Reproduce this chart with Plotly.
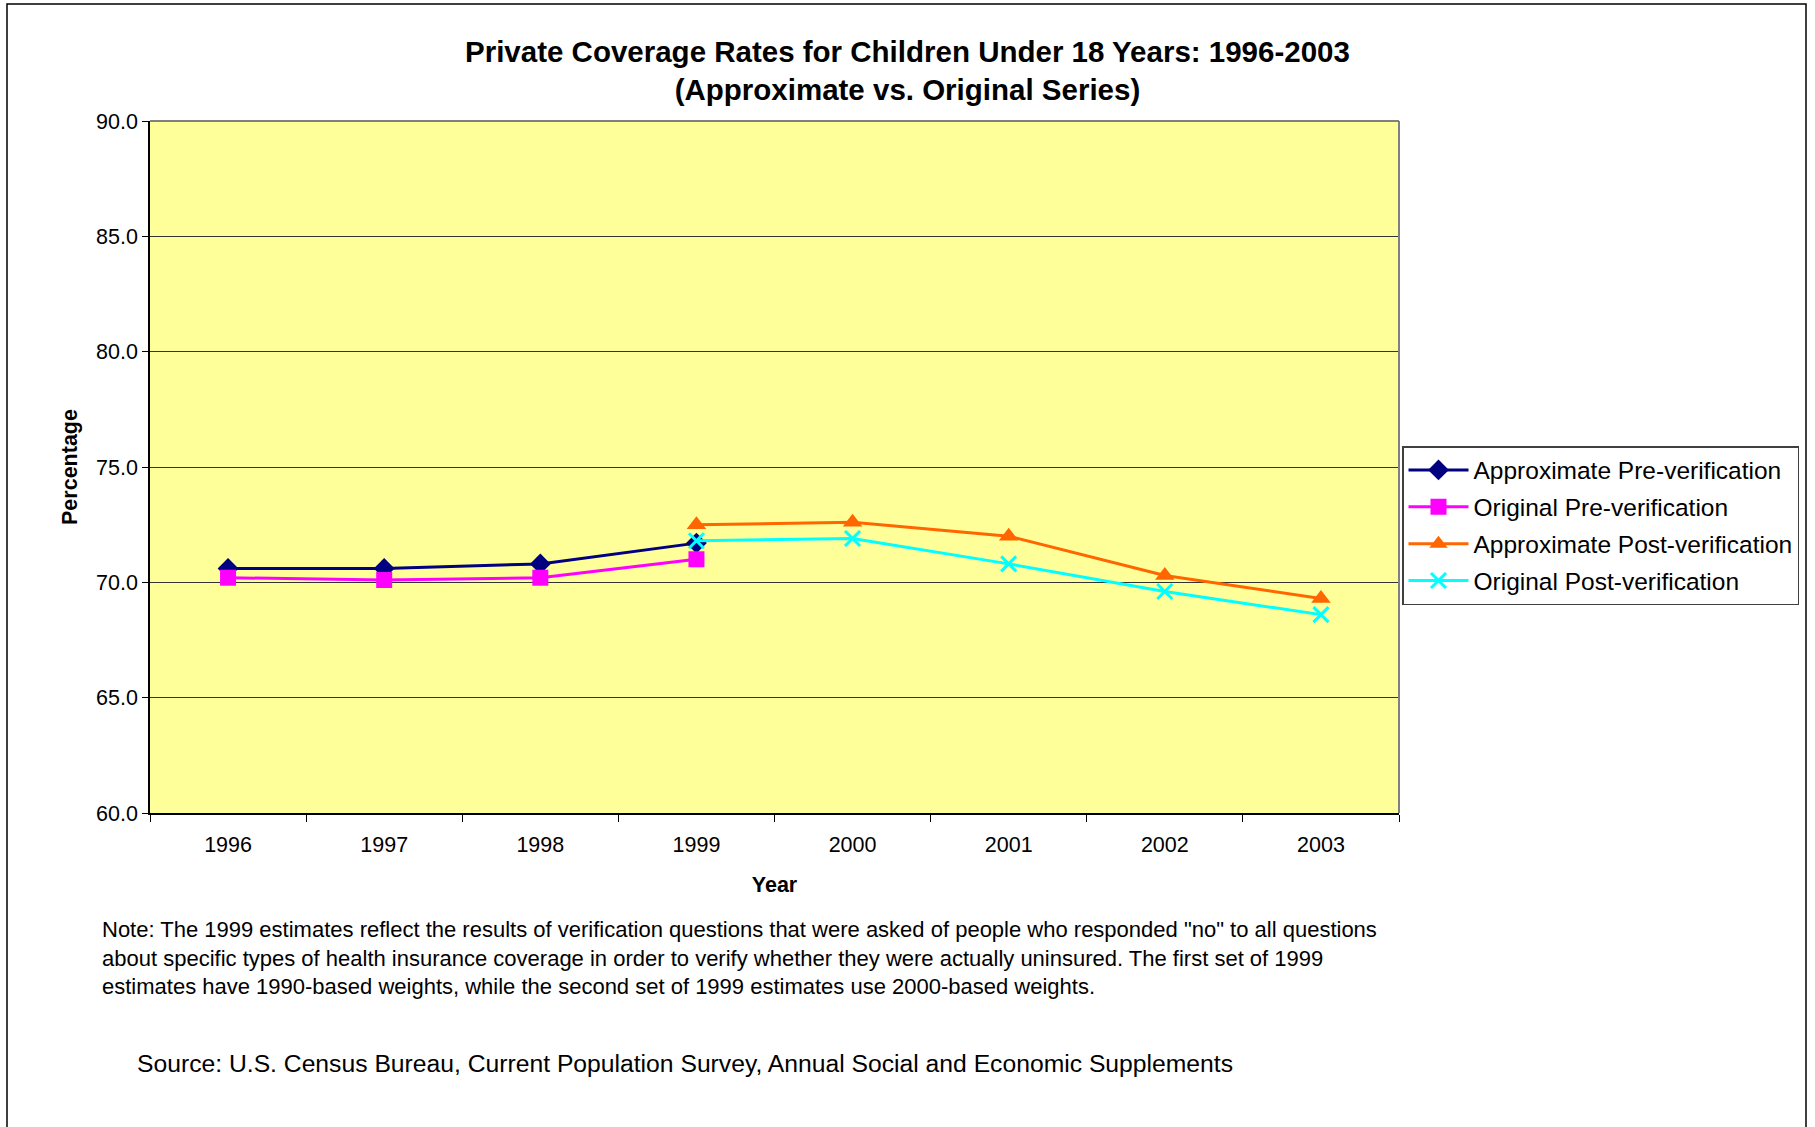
import plotly.graph_objects as go

# Survey years on the category axis
years = ["1996", "1997", "1998", "1999", "2000", "2001", "2002", "2003"]

# Pre-verification series (1996-1999)
pre_years = ["1996", "1997", "1998", "1999"]
approx_pre = [70.6, 70.6, 70.8, 71.7]
orig_pre = [70.2, 70.1, 70.2, 71.0]

# Post-verification series (1999-2003)
post_years = ["1999", "2000", "2001", "2002", "2003"]
approx_post = [72.5, 72.6, 72.0, 70.3, 69.3]
orig_post = [71.8, 71.9, 70.8, 69.6, 68.6]

y_ticks = [60, 65, 70, 75, 80, 85, 90]
y_tick_text = [f"{v:.1f}" for v in y_ticks]

W, H = 1815, 1127
PL, PR, PT, PB = 150, 1399, 121, 813  # plot area in pixels

def px_x(x):
    return (x - PL) / (PR - PL)

def px_y(y):
    return (PB - y) / (PB - PT)

FONT = "Liberation Sans, Arial, sans-serif"

fig = go.Figure()

fig.add_trace(go.Scatter(
    x=pre_years, y=approx_pre, name="Approximate Pre-verification",
    legendgroup="g1", mode="lines+markers",
    line=dict(color="#000080", width=3),
    marker=dict(symbol="diamond", size=16, color="#000080"),
))
fig.add_trace(go.Scatter(
    x=pre_years, y=orig_pre, name="Original Pre-verification",
    legendgroup="g2", mode="lines+markers",
    line=dict(color="#FF00FF", width=3),
    marker=dict(symbol="square", size=16, color="#FF00FF"),
))
fig.add_trace(go.Scatter(
    x=post_years, y=approx_post, name="Approximate Post-verification",
    legendgroup="g3", mode="lines+markers",
    line=dict(color="#FF6600", width=3),
    marker=dict(symbol="triangle-up", size=17, color="#FF6600"),
))
fig.add_trace(go.Scatter(
    x=post_years, y=orig_post, name="Original Post-verification",
    legendgroup="g4", mode="lines+markers",
    line=dict(color="#00FFFF", width=3),
    marker=dict(symbol="x-thin", size=15, color="#00FFFF",
                line=dict(color="#00FFFF", width=3)),
))

fig.update_layout(
    width=W, height=H,
    margin=dict(l=PL, r=W - PR, t=PT, b=H - PB, pad=0),
    paper_bgcolor="white",
    plot_bgcolor="#FFFF99",
    font=dict(family=FONT, size=21.5, color="black"),
    showlegend=True,
    legend=dict(
        x=px_x(1402), y=px_y(446), xanchor="left", yanchor="top",
        bgcolor="white", bordercolor="#404040", borderwidth=1.5,
        font=dict(family=FONT, size=24.5, color="black"),
        tracegroupgap=2, itemwidth=60,
    ),
)

fig.update_xaxes(
    type="category", categoryorder="array", categoryarray=years,
    range=[-0.5, 7.5],
    tickson="boundaries", ticks="outside", ticklen=7, tickcolor="black",
    tickwidth=1, ticklabelstandoff=11,
    showline=True, linecolor="black", linewidth=1.5,
    showgrid=False, zeroline=False,
    title=dict(text="<b>Year</b>", font=dict(family=FONT, size=21.5), standoff=21),
    tickfont=dict(family=FONT, size=21.5),
)

fig.update_yaxes(
    range=[60, 90], tickvals=y_ticks, ticktext=y_tick_text,
    ticks="outside", ticklen=6, tickcolor="black", tickwidth=1,
    showline=True, linecolor="black", linewidth=1.5,
    showgrid=True, gridcolor="#333333", gridwidth=1,
    zeroline=False,
    title=dict(text="<b>Percentage</b>", font=dict(family=FONT, size=21.5), standoff=13),
    tickfont=dict(family=FONT, size=21.5),
)

# Grey frame on the top and right of the plot area
fig.add_shape(type="line", xref="paper", yref="paper", x0=0, x1=1, y0=1, y1=1,
              line=dict(color="#808080", width=2))
fig.add_shape(type="line", xref="paper", yref="paper", x0=1, x1=1, y0=0, y1=1,
              line=dict(color="#808080", width=2))

# Outer chart frame
fig.add_shape(type="rect", xref="paper", yref="paper",
              x0=px_x(7), x1=px_x(1806), y0=px_y(1140), y1=px_y(4),
              line=dict(color="black", width=1.5), fillcolor="rgba(0,0,0,0)",
              layer="below")

fig.add_annotation(
    xref="paper", yref="paper", x=px_x(907), y=px_y(71),
    xanchor="center", yanchor="middle", showarrow=False,
    text="<b>Private Coverage Rates for Children Under 18 Years: 1996-2003<br>"
         "(Approximate vs. Original Series)</b>",
    font=dict(family=FONT, size=29.5, color="black"), align="center",
)

fig.add_annotation(
    xref="paper", yref="paper", x=px_x(100), y=px_y(958),
    xanchor="left", yanchor="middle", showarrow=False, align="left",
    text="Note: The 1999 estimates reflect the results of verification questions that were asked of people who responded \"no\" to all questions<br>"
         "about specific types of health insurance coverage in order to verify whether they were actually uninsured. The first set of 1999<br>"
         "estimates have 1990-based weights, while the second set of 1999 estimates use 2000-based weights.",
    font=dict(family=FONT, size=22, color="black"),
)

fig.add_annotation(
    xref="paper", yref="paper", x=px_x(135), y=px_y(1063),
    xanchor="left", yanchor="middle", showarrow=False, align="left",
    text="Source: U.S. Census Bureau, Current Population Survey, Annual Social and Economic Supplements",
    font=dict(family=FONT, size=24.7, color="black"),
)

fig.write_html("out.html")
